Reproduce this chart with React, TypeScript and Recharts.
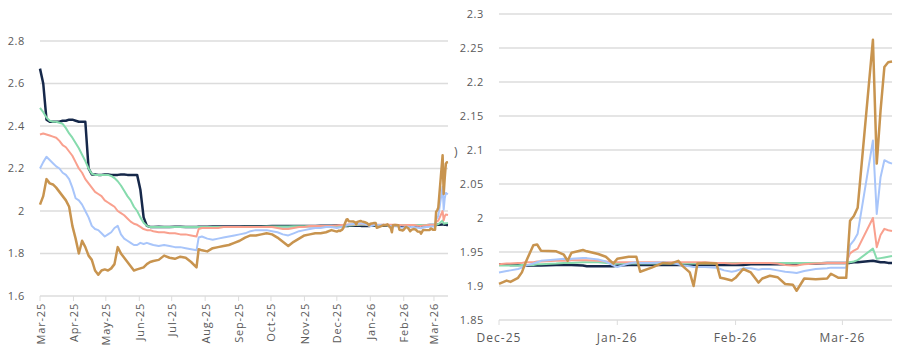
import { LineChart, Line, XAxis, YAxis, CartesianGrid } from "recharts";

// day offsets counted from 1 Mar 2025
const DAYS = [
  0, 3, 6, 9, 12, 15, 18, 21, 24, 27,
  30, 33, 36, 39, 42, 45, 48, 51, 54, 57,
  60, 63, 66, 69, 72, 75, 78, 81, 84, 87,
  90, 93, 96, 99, 102, 105, 110, 115, 120, 125,
  130, 135, 140, 145, 147, 150, 155, 160, 165, 170,
  175, 180, 185, 190, 195, 200, 205, 210, 215, 220,
  225, 230, 235, 240, 245, 250, 255, 260, 265, 270,
  275, 277, 278, 280, 281, 282, 284, 285, 286, 290,
  292, 293, 294, 297, 298, 301, 303, 305, 306, 309,
  311, 312, 315, 318, 320, 322, 323, 325, 326, 327,
  329, 332, 333, 334, 336, 337, 339, 341, 343, 344,
  346, 348, 350, 352, 353, 355, 358, 361, 362, 364,
  366, 367, 368, 369, 373, 374, 375, 376, 377, 378,
];

const NAVY = [
  2.67, 2.6, 2.43, 2.42, 2.42, 2.42, 2.42, 2.425, 2.425, 2.43,
  2.43, 2.425, 2.42, 2.42, 2.42, 2.2, 2.172, 2.172, 2.17, 2.17,
  2.172, 2.172, 2.17, 2.17, 2.17, 2.172, 2.172, 2.17, 2.17, 2.17,
  2.17, 2.1, 1.97, 1.93, 1.925, 1.925, 1.926, 1.925, 1.925, 1.926,
  1.926, 1.925, 1.925, 1.925, 1.926, 1.926, 1.926, 1.927, 1.927, 1.927,
  1.927, 1.927, 1.927, 1.928, 1.928, 1.928, 1.928, 1.928, 1.929, 1.929,
  1.929, 1.929, 1.93, 1.93, 1.93, 1.93, 1.93, 1.931, 1.931, 1.931,
  1.932, 1.932, 1.931, 1.931, 1.931, 1.93, 1.93, 1.93, 1.93, 1.931,
  1.931, 1.931, 1.931, 1.93, 1.929, 1.929, 1.929, 1.929, 1.93, 1.931,
  1.931, 1.931, 1.931, 1.931, 1.931, 1.931, 1.931, 1.931, 1.931, 1.931,
  1.931, 1.931, 1.931, 1.931, 1.931, 1.931, 1.931, 1.932, 1.932, 1.932,
  1.932, 1.932, 1.932, 1.932, 1.932, 1.933, 1.933, 1.934, 1.934, 1.934,
  1.934, 1.934, 1.935, 1.935, 1.937, 1.936, 1.935, 1.935, 1.934, 1.934,
];

const GREEN = [
  2.485, 2.465, 2.44, 2.425, 2.42, 2.42, 2.415, 2.41, 2.39, 2.365,
  2.345, 2.32, 2.295, 2.265, 2.235, 2.2, 2.175, 2.17, 2.17, 2.17,
  2.17, 2.17, 2.165, 2.155, 2.14, 2.12, 2.095, 2.07, 2.05, 2.02,
  2.0, 1.97, 1.945, 1.93, 1.925, 1.925, 1.925, 1.925, 1.925, 1.925,
  1.925, 1.925, 1.925, 1.925, 1.925, 1.925, 1.925, 1.925, 1.925, 1.925,
  1.925, 1.925, 1.925, 1.926, 1.926, 1.926, 1.926, 1.927, 1.927, 1.927,
  1.927, 1.927, 1.928, 1.928, 1.928, 1.929, 1.929, 1.929, 1.93, 1.93,
  1.93, 1.93, 1.93, 1.93, 1.931, 1.931, 1.931, 1.932, 1.932, 1.933,
  1.934, 1.934, 1.934, 1.935, 1.935, 1.935, 1.934, 1.933, 1.933, 1.933,
  1.933, 1.933, 1.933, 1.933, 1.933, 1.933, 1.933, 1.933, 1.933, 1.933,
  1.933, 1.933, 1.934, 1.934, 1.934, 1.934, 1.934, 1.934, 1.934, 1.934,
  1.934, 1.934, 1.934, 1.934, 1.934, 1.934, 1.934, 1.934, 1.934, 1.934,
  1.934, 1.935, 1.936, 1.938, 1.955, 1.94, 1.941, 1.942, 1.943, 1.944,
];

const SALMON = [
  2.36, 2.365, 2.36, 2.355, 2.35, 2.345, 2.33, 2.31, 2.3, 2.28,
  2.26, 2.23, 2.2, 2.18, 2.15, 2.13, 2.11, 2.09, 2.08, 2.07,
  2.05, 2.04, 2.03, 2.02, 2.0, 1.99, 1.98, 1.965, 1.95, 1.94,
  1.935, 1.925, 1.915, 1.91, 1.91, 1.905, 1.9, 1.9, 1.895, 1.895,
  1.89, 1.89, 1.885, 1.88, 1.915, 1.92, 1.92, 1.92, 1.92, 1.925,
  1.925, 1.925, 1.925, 1.925, 1.925, 1.925, 1.925, 1.925, 1.925, 1.92,
  1.915, 1.915, 1.92, 1.925, 1.925, 1.93, 1.93, 1.93, 1.93, 1.93,
  1.932, 1.933, 1.933, 1.934, 1.934, 1.935, 1.935, 1.936, 1.936, 1.937,
  1.937, 1.937, 1.938, 1.938, 1.938, 1.937, 1.936, 1.935, 1.935, 1.935,
  1.935, 1.935, 1.935, 1.935, 1.935, 1.935, 1.935, 1.935, 1.935, 1.935,
  1.935, 1.934, 1.934, 1.934, 1.933, 1.933, 1.934, 1.934, 1.934, 1.934,
  1.934, 1.933, 1.931, 1.93, 1.93, 1.932, 1.933, 1.934, 1.934, 1.934,
  1.934, 1.948, 1.952, 1.955, 2.0, 1.957, 1.975, 1.984, 1.982, 1.981,
];

const BLUE = [
  2.2, 2.23, 2.255, 2.24, 2.225, 2.21, 2.2, 2.18, 2.17, 2.15,
  2.11, 2.06, 2.05, 2.03, 2.0, 1.97, 1.93, 1.915, 1.91, 1.895,
  1.88, 1.89, 1.9, 1.92, 1.93, 1.89, 1.87, 1.86, 1.85, 1.84,
  1.84, 1.85, 1.845, 1.85, 1.845, 1.84, 1.835, 1.84, 1.835, 1.83,
  1.83, 1.825, 1.82, 1.815, 1.875, 1.88, 1.87, 1.865, 1.87, 1.875,
  1.88, 1.885, 1.89, 1.895, 1.905, 1.91, 1.91, 1.91, 1.905, 1.9,
  1.89, 1.885, 1.895, 1.905, 1.91, 1.915, 1.92, 1.92, 1.925, 1.925,
  1.92, 1.922, 1.923, 1.925, 1.927, 1.93, 1.933, 1.935, 1.937, 1.939,
  1.94, 1.938, 1.94, 1.941, 1.941, 1.939, 1.936, 1.93, 1.928, 1.933,
  1.935, 1.934, 1.934, 1.935, 1.934, 1.932, 1.93, 1.929, 1.928, 1.928,
  1.928, 1.927, 1.925, 1.923, 1.921, 1.922, 1.926, 1.926, 1.924, 1.925,
  1.925, 1.923, 1.921, 1.92, 1.919, 1.922, 1.925, 1.926, 1.927, 1.927,
  1.927, 1.96, 1.967, 1.977, 2.114, 2.006, 2.06, 2.085, 2.082, 2.08,
];

const GOLD = [
  2.03, 2.07, 2.15, 2.13, 2.125, 2.11, 2.09, 2.07, 2.05, 2.02,
  1.93, 1.87, 1.8, 1.86, 1.83, 1.79, 1.77, 1.72, 1.7, 1.72,
  1.725, 1.72, 1.73, 1.75, 1.83, 1.8, 1.78, 1.76, 1.74, 1.72,
  1.725, 1.73, 1.735, 1.75, 1.76, 1.765, 1.77, 1.79, 1.78, 1.775,
  1.785, 1.78, 1.76, 1.735, 1.82, 1.815, 1.81, 1.825, 1.83, 1.835,
  1.84, 1.85, 1.86, 1.875, 1.885, 1.885, 1.89, 1.895, 1.89, 1.875,
  1.855, 1.835, 1.855, 1.87, 1.885, 1.89, 1.895, 1.895, 1.9, 1.91,
  1.903, 1.908, 1.906, 1.912, 1.92, 1.935, 1.96, 1.961, 1.952, 1.951,
  1.946, 1.937, 1.949, 1.953, 1.951, 1.947, 1.943, 1.933, 1.94, 1.943,
  1.943, 1.921, 1.927, 1.934, 1.933, 1.937, 1.93, 1.92, 1.9, 1.933,
  1.934, 1.933, 1.912, 1.911, 1.908, 1.912, 1.925, 1.92, 1.905, 1.911,
  1.915, 1.913, 1.903, 1.902, 1.893, 1.911, 1.91, 1.911, 1.918, 1.912,
  1.912, 1.996, 2.003, 2.015, 2.262, 2.08, 2.158, 2.222, 2.229, 2.23,
];

const MONTH_TICKS = [0, 31, 61, 92, 122, 153, 184, 214, 245, 275, 306, 337, 365];
const MONTH_LABELS = [
  "Mar-25", "Apr-25", "May-25", "Jun-25", "Jul-25", "Aug-25", "Sep-25",
  "Oct-25", "Nov-25", "Dec-25", "Jan-26", "Feb-26", "Mar-26",
];
const ZOOM_TICKS = [275, 306, 337, 365];
const Y_TICKS_FULL = [1.6, 1.8, 2, 2.2, 2.4, 2.6, 2.8];
const Y_TICKS_ZOOM = [1.85, 1.9, 1.95, 2, 2.05, 2.1, 2.15, 2.2, 2.25, 2.3];
const ZOOM_FROM = 275;
const LAST_DAY = 378;

const SERIES = [
  { key: "navy", color: "#16284a", width: 2.5 },
  { key: "green", color: "#86dbad", width: 2 },
  { key: "salmon", color: "#f9a08e", width: 2 },
  { key: "blue", color: "#a8c5fa", width: 2 },
  { key: "gold", color: "#c8944f", width: 2.5 },
];

const rows = DAYS.map((d, i) => ({
  d,
  navy: NAVY[i],
  green: GREEN[i],
  salmon: SALMON[i],
  blue: BLUE[i],
  gold: GOLD[i],
}));
const zoomRows = rows.filter((r) => r.d >= ZOOM_FROM);

const FONT = "'Open Sans', sans-serif";
const TEXT = "#5a5a5a";
const GRID = "#dcdcdc";

const monthLabel = (v: number) => MONTH_LABELS[MONTH_TICKS.indexOf(v)] ?? "";

function RotatedTick(props: any) {
  const { x, y, payload } = props;
  return (
    <text
      x={x}
      y={y}
      transform={`rotate(-90 ${x} ${y})`}
      textAnchor="end"
      dominantBaseline="central"
      fill={TEXT}
      fontSize={11}
      letterSpacing={0.8}
      fontFamily={FONT}
    >
      {monthLabel(payload.value)}
    </text>
  );
}

function lines() {
  return SERIES.map((s) => (
    <Line
      key={s.key}
      type="linear"
      dataKey={s.key}
      stroke={s.color}
      strokeWidth={s.width}
      strokeLinejoin="round"
      dot={false}
      activeDot={false}
      isAnimationActive={false}
    />
  ));
}

export default function App() {
  const tickStyle = { fill: TEXT, fontSize: 11, fontFamily: FONT, letterSpacing: 0.6 };
  const dateTickStyle = { fill: TEXT, fontSize: 12, fontFamily: FONT, letterSpacing: 1 };
  return (
    <div style={{ position: "absolute", left: 0, top: 0, width: 899, height: 351, background: "#fff" }}>
      <div style={{ position: "absolute", left: 0, top: 0 }}>
        <LineChart width={455} height={351} data={rows} margin={{ top: 41, right: 7, bottom: 0, left: 0 }}>
          <CartesianGrid vertical={false} stroke={GRID} strokeWidth={1.5} />
          <XAxis
            dataKey="d"
            type="number"
            domain={[0, LAST_DAY]}
            ticks={MONTH_TICKS}
            interval={0}
            height={55}
            axisLine={false}
            tickSize={5}
            tickMargin={2}
            tickLine={{ stroke: GRID }}
            tick={(p: any) => <RotatedTick {...p} />}
          />
          <YAxis
            type="number"
            domain={[1.6, 2.8]}
            ticks={Y_TICKS_FULL}
            width={40}
            axisLine={false}
            tickLine={false}
            tickSize={6}
            tickMargin={9}
            tickFormatter={(v: number) => String(v)}
            tick={tickStyle}
          />
          {lines()}
        </LineChart>
      </div>
      <div style={{ position: "absolute", left: 454, top: 143, color: TEXT, fontSize: 12, fontFamily: FONT }}>)</div>
      <div style={{ position: "absolute", left: 455, top: 0 }}>
        <LineChart width={444} height={351} data={zoomRows} margin={{ top: 14, right: 7, bottom: 0, left: 0 }}>
          <CartesianGrid vertical={false} stroke={GRID} strokeWidth={1.5} />
          <XAxis
            dataKey="d"
            type="number"
            domain={[ZOOM_FROM, LAST_DAY]}
            ticks={ZOOM_TICKS}
            interval={0}
            height={31}
            axisLine={false}
            tickSize={5}
            tickMargin={8}
            tickLine={{ stroke: GRID }}
            tickFormatter={monthLabel}
            tick={dateTickStyle}
          />
          <YAxis
            type="number"
            domain={[1.85, 2.3]}
            ticks={Y_TICKS_ZOOM}
            width={44}
            axisLine={false}
            tickLine={false}
            tickSize={6}
            tickMargin={9}
            tickFormatter={(v: number) => String(v)}
            tick={tickStyle}
          />
          {lines()}
        </LineChart>
      </div>
    </div>
  );
}
